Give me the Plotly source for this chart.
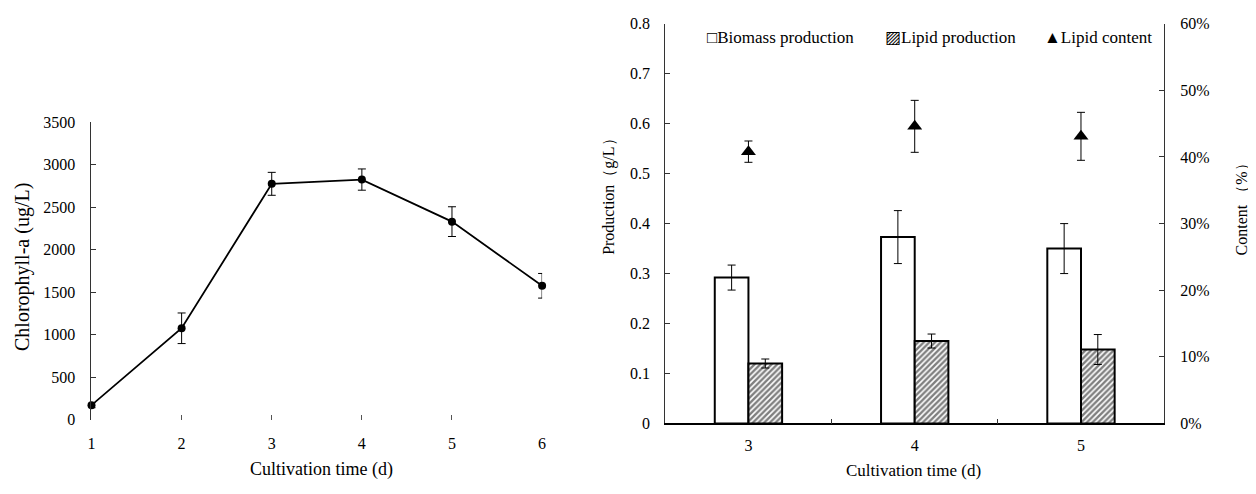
import plotly.graph_objects as go

# ---- Left chart data: Chlorophyll-a over cultivation time ----
days = [1, 2, 3, 4, 5, 6]
chl = [170, 1075, 2775, 2825, 2330, 1575]
chl_err = [30, 180, 135, 125, 175, 145]
chl_yticks = [0, 500, 1000, 1500, 2000, 2500, 3000, 3500]

# ---- Right chart data: production and lipid content ----
cats = ["3", "4", "5"]
biomass = [0.292, 0.373, 0.350]
biomass_err = [0.025, 0.053, 0.050]
lipid = [0.120, 0.165, 0.148]
lipid_err = [0.009, 0.014, 0.030]
content = [0.408, 0.446, 0.431]
content_err = [0.016, 0.039, 0.036]

W, H = 1256, 494
OFF = 8  # page body margin offsets the figure by 8 px
FONT = "Liberation Serif"


def px_x(p):
    return (p - OFF) / W


def px_y(p):
    return 1 - (p - OFF) / H


fig = go.Figure()

# Left chart
fig.add_trace(go.Scatter(
    x=days, y=chl, mode="lines+markers",
    line=dict(color="black", width=1.8),
    marker=dict(color="black", size=8, symbol="circle"),
    error_y=dict(type="data", array=chl_err, color="black", thickness=1, width=4),
    xaxis="x", yaxis="y", cliponaxis=False, showlegend=False,
))

# Right chart bars
fig.add_trace(go.Bar(
    x=cats, y=biomass, name="Biomass production",
    marker=dict(color="white", line=dict(color="black", width=2)),
    error_y=dict(type="data", array=biomass_err, color="black", thickness=1, width=4),
    xaxis="x2", yaxis="y2", showlegend=False,
))
fig.add_trace(go.Bar(
    x=cats, y=lipid, name="Lipid production",
    marker=dict(color="white", line=dict(color="black", width=2),
                pattern=dict(shape="/", fgcolor="black", bgcolor="white",
                             size=4, solidity=0.6)),
    error_y=dict(type="data", array=lipid_err, color="black", thickness=1, width=4),
    xaxis="x2", yaxis="y2", showlegend=False,
))
fig.add_trace(go.Scatter(
    x=cats, y=content, name="Lipid content", mode="markers",
    marker=dict(color="black", size=13, symbol="triangle-up"),
    error_y=dict(type="data", array=content_err, color="black", thickness=1, width=4),
    xaxis="x2", yaxis="y3", showlegend=False,
))

tickfont = dict(family=FONT, size=16, color="black")

fig.update_layout(
    width=W, height=H,
    margin=dict(l=0, r=0, t=0, b=0),
    paper_bgcolor="white", plot_bgcolor="white",
    font=dict(family=FONT, size=16, color="black"),
    barmode="group", bargap=0.595, bargroupgap=0,
    xaxis=dict(
        domain=[px_x(88), px_x(541.5)], range=[1, 6],
        tickmode="array", tickvals=days,
        showline=False, showgrid=False, zeroline=False,
        ticks="inside", ticklen=5, tickcolor="#555",
        tickfont=tickfont, ticklabelstandoff=12,
        anchor="y",
    ),
    yaxis=dict(
        domain=[px_y(426), px_y(118)], range=[0, 3500],
        tickmode="array", tickvals=chl_yticks,
        showline=True, linecolor="#333", linewidth=1,
        showgrid=False, zeroline=False,
        ticks="inside", ticklen=5, tickcolor="#333",
        tickfont=tickfont, ticklabelstandoff=12,
        anchor="x",
    ),
    xaxis2=dict(
        domain=[px_x(665.5), px_x(1167.5)], type="category",
        showline=True, linecolor="black", linewidth=1.5,
        showgrid=False, zeroline=False,
        ticks="inside", ticklen=5, tickcolor="#333", tickson="boundaries",
        tickfont=tickfont, ticklabelstandoff=7,
        anchor="y2",
    ),
    yaxis2=dict(
        domain=[px_y(430), px_y(16)], range=[0, 0.8], dtick=0.1,
        tickformat="~g",
        showline=True, linecolor="#333", linewidth=1,
        showgrid=False, zeroline=False,
        ticks="inside", ticklen=5, tickcolor="#333",
        tickfont=tickfont, ticklabelstandoff=11,
        anchor="x2",
    ),
    yaxis3=dict(
        overlaying="y2", side="right", range=[0, 0.6], dtick=0.1,
        tickformat=".0%",
        showline=True, linecolor="#333", linewidth=1,
        showgrid=False, zeroline=False,
        ticks="inside", ticklen=5, tickcolor="#333",
        tickfont=tickfont, ticklabelstandoff=12,
        anchor="x2",
    ),
)

ann = []
# axis titles
ann.append(dict(text="Chlorophyll-a (ug/L)", x=px_x(18), y=px_y(268), textangle=-90,
                font=dict(family=FONT, size=20, color="black")))
ann.append(dict(text="Cultivation time (d)", x=px_x(319), y=px_y(478),
                font=dict(family=FONT, size=18, color="black")))
ann.append(dict(text="Production（g/L）", x=px_x(609), y=px_y(191), textangle=-90,
                font=dict(family=FONT, size=16, color="black")))
ann.append(dict(text="Content （%）", x=px_x(1245), y=px_y(204), textangle=-90,
                font=dict(family=FONT, size=16, color="black")))
ann.append(dict(text="Cultivation time (d)", x=px_x(915), y=px_y(479),
                font=dict(family=FONT, size=17, color="black")))
# legend entries
ann.append(dict(text="□Biomass production", x=px_x(705), y=px_y(30), xanchor="left",
                font=dict(family=FONT, size=17, color="black")))
ann.append(dict(text="▨Lipid production", x=px_x(885), y=px_y(30), xanchor="left",
                font=dict(family=FONT, size=17, color="black")))
ann.append(dict(text="▲Lipid content", x=px_x(1045), y=px_y(30), xanchor="left",
                font=dict(family=FONT, size=17, color="black")))

for a in ann:
    a.setdefault("xanchor", "center")
    a.update(xref="paper", yref="paper", yanchor="middle", showarrow=False)

fig.update_layout(annotations=ann)

fig.write_html("out.html")
